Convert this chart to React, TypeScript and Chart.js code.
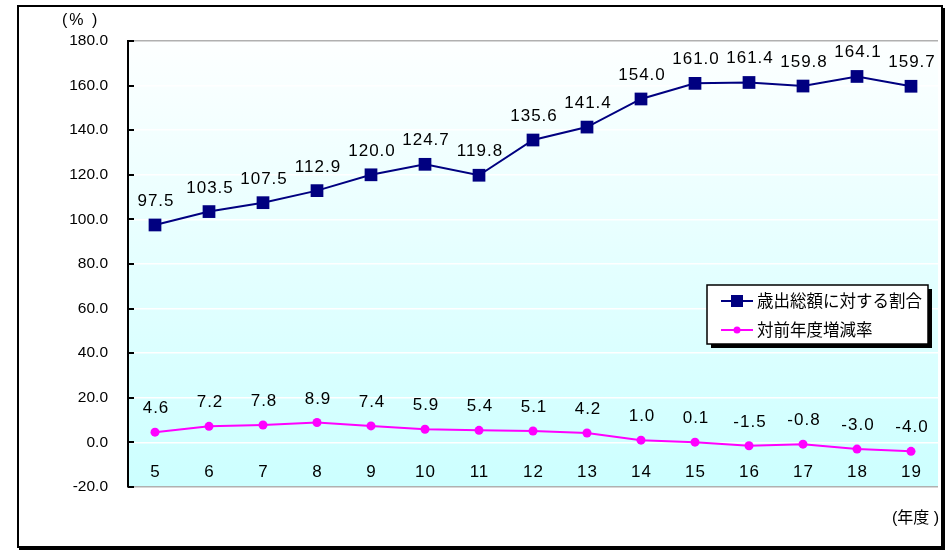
import React, { useEffect, useRef } from 'react';
import { Chart, registerables } from 'chart.js';
Chart.register(...registerables);

const years = ['5', '6', '7', '8', '9', '10', '11', '12', '13', '14', '15', '16', '17', '18', '19'];
const ratioValues = [97.5, 103.5, 107.5, 112.9, 120.0, 124.7, 119.8, 135.6, 141.4, 154.0, 161.0, 161.4, 159.8, 164.1, 159.7];
const changeValues = [4.6, 7.2, 7.8, 8.9, 7.4, 5.9, 5.4, 5.1, 4.2, 1.0, 0.1, -1.5, -0.8, -3.0, -4.0];
const seriesNames = ['歳出総額に対する割合', '対前年度増減率'];
const seriesColors = ['#000080', '#ff00ff'];
const yMin = -20;
const yMax = 180;
const yStep = 20;
const yUnit = '(% )';
const xUnit = '(年度 )';

const FONT = '"Liberation Sans", Arial, "Noto Sans CJK JP", sans-serif';

const decorPlugin = {
  id: 'decor',
  beforeDraw(chart: any) {
    const { ctx, chartArea } = chart;
    ctx.save();
    ctx.fillStyle = '#ffffff';
    ctx.fillRect(0, 0, chart.width, chart.height);
    const g = ctx.createLinearGradient(0, chartArea.top, 0, chartArea.bottom);
    g.addColorStop(0, '#fdffff');
    g.addColorStop(1, '#ccffff');
    ctx.fillStyle = g;
    ctx.fillRect(chartArea.left, chartArea.top, chartArea.right - chartArea.left, chartArea.bottom - chartArea.top);
    ctx.restore();
  },
  afterDatasetsDraw(chart: any) {
    const { ctx, chartArea } = chart;
    const xs = chart.scales.x;
    const ys = chart.scales.y;
    ctx.save();
    ctx.strokeStyle = '#000';
    ctx.lineWidth = 2;
    for (let v = yMin; v <= yMax; v += yStep) {
      const y = Math.round(ys.getPixelForValue(v));
      ctx.beginPath();
      ctx.moveTo(chartArea.left, y);
      ctx.lineTo(chartArea.left + 6, y);
      ctx.stroke();
    }
    ctx.fillStyle = '#000';
    ctx.font = '17px ' + FONT;
    (ctx as any).letterSpacing = '1px';
    ctx.textAlign = 'center';
    ctx.textBaseline = 'alphabetic';
    chart.data.datasets.forEach((ds: any, di: number) => {
      const meta = chart.getDatasetMeta(di);
      meta.data.forEach((pt: any, i: number) => {
        ctx.fillText(ds.data[i].toFixed(1), pt.x + 1, pt.y - 19);
      });
    });
    (ctx as any).letterSpacing = '1px';
    ctx.font = '17px ' + FONT;
    ctx.textBaseline = 'middle';
    years.forEach((lab, i) => {
      ctx.fillText(lab, xs.getPixelForValue(i) + 0.5, 472);
    });
    ctx.restore();
  },
  afterDraw(chart: any) {
    const { ctx } = chart;
    ctx.save();
    ctx.fillStyle = '#000';
    ctx.fillRect(19, 547, 926, 3);
    ctx.fillRect(942, 8, 3, 542);
    ctx.strokeStyle = '#000';
    ctx.lineWidth = 2;
    ctx.strokeRect(18, 6, 924, 541);
    ctx.fillStyle = '#000';
    ctx.font = '16px ' + FONT;
    (ctx as any).letterSpacing = '2px';
    ctx.textAlign = 'left';
    ctx.textBaseline = 'middle';
    ctx.fillText(yUnit, 62, 21);
    (ctx as any).letterSpacing = '0px';
    ctx.textAlign = 'right';
    ctx.fillText(xUnit, 939, 519);
    const bx = 707, by = 285, bw = 221, bh = 59;
    ctx.fillStyle = '#000';
    ctx.fillRect(bx + 4, by + 4, bw, bh);
    ctx.fillStyle = '#fff';
    ctx.fillRect(bx, by, bw, bh);
    ctx.strokeStyle = '#000';
    ctx.lineWidth = 1.5;
    ctx.strokeRect(bx, by, bw, bh);
    const rows = [301, 330];
    rows.forEach((ry, i) => {
      ctx.strokeStyle = seriesColors[i];
      ctx.lineWidth = 2;
      ctx.beginPath();
      ctx.moveTo(721, ry);
      ctx.lineTo(753, ry);
      ctx.stroke();
      ctx.fillStyle = seriesColors[i];
      if (i === 0) {
        ctx.fillRect(737 - 6, ry - 6, 12, 12);
      } else {
        ctx.beginPath();
        ctx.arc(737, ry, 3.5, 0, Math.PI * 2);
        ctx.fill();
      }
      ctx.fillStyle = '#000';
      ctx.font = '16.5px ' + FONT;
      ctx.textAlign = 'left';
      ctx.textBaseline = 'middle';
      ctx.fillText(seriesNames[i], 757, ry + 1);
    });
    ctx.restore();
  },
};

export default function App() {
  const ref = useRef<HTMLCanvasElement>(null);
  useEffect(() => {
    const canvas = ref.current;
    if (!canvas) return;
    const chart = new Chart(canvas, {
      type: 'line',
      data: {
        labels: years,
        datasets: [
          {
            label: seriesNames[0],
            data: ratioValues,
            borderColor: seriesColors[0],
            backgroundColor: seriesColors[0],
            borderWidth: 2,
            pointStyle: 'rect',
            pointRadius: 9,
            pointBorderWidth: 0,
            tension: 0,
          },
          {
            label: seriesNames[1],
            data: changeValues,
            borderColor: seriesColors[1],
            backgroundColor: seriesColors[1],
            borderWidth: 2,
            pointStyle: 'circle',
            pointRadius: 4.5,
            pointBorderWidth: 0,
            tension: 0,
          },
        ],
      },
      options: {
        responsive: false,
        animation: false,
        events: [],
        layout: { padding: { left: 0, top: 41, right: 4, bottom: 64 } },
        plugins: { legend: { display: false }, tooltip: { enabled: false } },
        scales: {
          x: { display: false, offset: true },
          y: {
            min: yMin,
            max: yMax,
            afterFit: (scale: any) => {
              scale.width = 128;
            },
            ticks: {
              stepSize: yStep,
              padding: 20,
              color: '#000',
              font: { family: FONT, size: 15.5 },
              callback: (v: any) => Number(v).toFixed(1),
            },
            grid: {
              drawTicks: false,
              lineWidth: 1.5,
              color: (c: any) => (c.tick && (c.tick.value === yMax || c.tick.value === yMin) ? '#b0b0b0' : '#ffffff'),
            },
            border: { color: '#000', width: 2 },
          },
        },
      },
      plugins: [decorPlugin],
    });
    return () => chart.destroy();
  }, []);
  return (
    <div style={{ position: 'absolute', left: 0, top: 0, width: 947, height: 551 }}>
      <canvas ref={ref} width={947} height={551} style={{ display: 'block' }} />
    </div>
  );
}
